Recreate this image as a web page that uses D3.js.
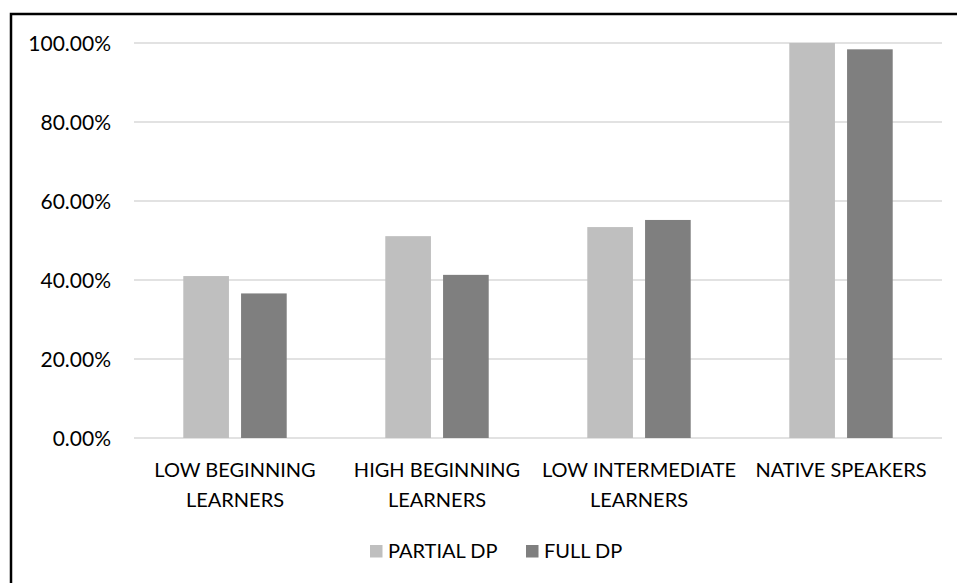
<!DOCTYPE html>
<html>
<head>
<meta charset="utf-8">
<script src="https://cdn.jsdelivr.net/npm/d3@7"></script>
<style>
  body { margin: 0; background: #fff; }
  svg text { font-family: Lato, "Open Sans", sans-serif; fill: #000; }
</style>
</head>
<body>
<div id="chart"></div>
<script>
// Data
const categories = ['LOW BEGINNING LEARNERS', 'HIGH BEGINNING LEARNERS', 'LOW INTERMEDIATE LEARNERS', 'NATIVE SPEAKERS'];
const categoryLines = [
    ['LOW BEGINNING', 'LEARNERS'],
    ['HIGH BEGINNING', 'LEARNERS'],
    ['LOW INTERMEDIATE', 'LEARNERS'],
    ['NATIVE SPEAKERS']
];
const seriesNames = ['PARTIAL DP', 'FULL DP'];
const partialDP = [0.410, 0.511, 0.534, 1.000];
const fullDP = [0.366, 0.413, 0.552, 0.984];
const yTicks = [0, 0.2, 0.4, 0.6, 0.8, 1.0];
const colors = ['#bfbfbf', '#7f7f7f'];

const width = 957;
const height = 583;
const plot = { left: 134, right: 942, top: 43, bottom: 438 };

const svg = d3.select('#chart').append('svg')
    .attr('width', width)
    .attr('height', height);

// Outer frame (runs off the right and bottom edge like the original)
svg.append('rect')
    .attr('x', 11)
    .attr('y', 14)
    .attr('width', 1000)
    .attr('height', 700)
    .attr('fill', 'none')
    .attr('stroke', '#000')
    .attr('stroke-width', 2.5);

const y = d3.scaleLinear()
    .domain([0, 1])
    .range([plot.bottom, plot.top]);

const x0 = d3.scaleBand()
    .domain(categories)
    .range([plot.left, plot.right])
    .padding(0);

const step = x0.bandwidth();
const barW = step * 0.226;
const barGap = step * 0.06;

const x1 = d3.scaleOrdinal()
    .domain(seriesNames)
    .range([-barGap / 2 - barW, barGap / 2]);

// Gridlines
svg.append('g')
    .selectAll('line')
    .data(yTicks)
    .join('line')
    .attr('x1', plot.left)
    .attr('x2', plot.right)
    .attr('y1', d => y(d))
    .attr('y2', d => y(d))
    .attr('stroke', '#d9d9d9')
    .attr('stroke-width', 1.5);

// Y axis labels
svg.append('g')
    .selectAll('text')
    .data(yTicks)
    .join('text')
    .attr('x', 111)
    .attr('y', d => y(d))
    .attr('dy', '0.36em')
    .attr('text-anchor', 'end')
    .style('font-size', '21px')
    .text(d => d3.format('.2%')(d));

// Bars
const series = [partialDP, fullDP];
series.forEach((vals, si) => {
    svg.append('g')
        .selectAll('rect')
        .data(vals)
        .join('rect')
        .attr('x', (d, i) => x0(categories[i]) + step / 2 + x1(seriesNames[si]))
        .attr('y', d => y(d))
        .attr('width', barW)
        .attr('height', d => y(0) - y(d))
        .attr('fill', colors[si]);
});

// Category labels
const catLabel = svg.append('g')
    .selectAll('text')
    .data(categories)
    .join('text')
    .attr('text-anchor', 'middle')
    .style('font-size', '20px');

catLabel.each(function(d, i) {
    const t = d3.select(this);
    categoryLines[i].forEach((line, li) => {
        t.append('tspan')
            .attr('x', x0(d) + step / 2)
            .attr('y', 477 + li * 29.5)
            .text(line);
    });
});

// Legend
const legendItems = [
    { name: seriesNames[0], color: colors[0], x: 370 },
    { name: seriesNames[1], color: colors[1], x: 526 }
];
const legend = svg.append('g')
    .selectAll('g')
    .data(legendItems)
    .join('g')
    .attr('transform', d => `translate(${d.x},545)`);

legend.append('rect')
    .attr('width', 12.5)
    .attr('height', 12.5)
    .attr('fill', d => d.color);

legend.append('text')
    .attr('x', 18)
    .attr('y', 13)
    .style('font-size', '20px')
    .text(d => d.name);
</script>
</body>
</html>
